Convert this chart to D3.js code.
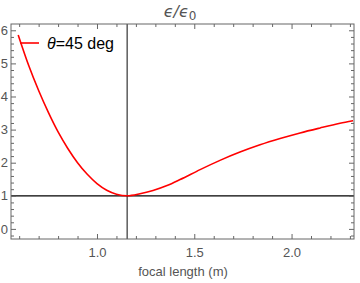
<!DOCTYPE html>
<html><head><meta charset="utf-8">
<script src="https://cdn.jsdelivr.net/npm/d3@7"></script>
<style>body{margin:0;background:#fff}svg{display:block}</style>
</head><body>
<svg id="c" width="360" height="283"></svg>
<script>
const focal = [0.595,0.65,0.70,0.75,0.80,0.85,0.90,0.95,1.00,1.05,1.10,1.155,1.221,1.288,1.360,1.427,1.530,1.632,1.735,1.838,1.941,2.044,2.147,2.249,2.316];
const eps   = [5.86,4.92,4.18,3.52,2.93,2.43,2.00,1.65,1.37,1.17,1.05,1.00,1.06,1.16,1.31,1.49,1.79,2.07,2.32,2.54,2.73,2.90,3.05,3.19,3.27];
const xTicks = [1.0,1.5,2.0];
const yTicks = [0,1,2,3,4,5,6];
const fMin = 1.155;
const legendLabel = "=45 deg";

const svg = d3.select("#c");
const L=11,T=24,R=354,B=239;
const x = d3.scaleLinear().domain([0.558,2.321]).range([L,R]);
const y = d3.scaleLinear().domain([-0.305,6.19]).range([B,T]);
const frameCol="#666", labCol="#555";

const line = d3.line().x((d,i)=>x(focal[i])).y(d=>y(d)).curve(d3.curveMonotoneX);
const g = svg.append("g");
g.append("clipPath").attr("id","cp").append("rect").attr("x",L).attr("y",T).attr("width",R-L).attr("height",B-T);

g.append("line").attr("x1",x(fMin)).attr("x2",x(fMin)).attr("y1",T).attr("y2",B).attr("stroke","#333").attr("stroke-width",1.2);
g.append("line").attr("x1",L).attr("x2",R).attr("y1",y(1)).attr("y2",y(1)).attr("stroke","#000").attr("stroke-width",1.2);

g.append("path").datum(eps).attr("d",line).attr("fill","none").attr("stroke","#ff0000").attr("stroke-width",1.6).attr("clip-path","url(#cp)");

const xMinor = d3.range(0.6,2.301,0.1).map(v=>+v.toFixed(2));
const yMinor = d3.range(-0.2,6.11,0.2).map(v=>+v.toFixed(2));
function addAxis(gen, tr){ const a=svg.append("g").attr("transform",tr).call(gen); a.select(".domain").remove(); a.selectAll("line").attr("stroke",frameCol); return a; }
const notMajor = (arr,maj)=>arr.filter(v=>!maj.some(t=>Math.abs(t-v)<1e-6));

const fmt = d3.format(".1f");
let ax = addAxis(d3.axisBottom(x).tickValues(xTicks).tickSize(-5).tickPadding(9).tickFormat(fmt), `translate(0,${B})`);
ax.selectAll("text").attr("fill",labCol).style("font-family","Liberation Sans, Arial, sans-serif").style("font-size","13px");
addAxis(d3.axisBottom(x).tickValues(notMajor(xMinor,xTicks)).tickSize(-3).tickFormat(""), `translate(0,${B})`);
addAxis(d3.axisTop(x).tickValues(xTicks).tickSize(-5).tickFormat(""), `translate(0,${T})`);
addAxis(d3.axisTop(x).tickValues(notMajor(xMinor,xTicks)).tickSize(-3).tickFormat(""), `translate(0,${T})`);

let ay = addAxis(d3.axisLeft(y).tickValues(yTicks).tickSize(-5).tickPadding(3).tickFormat(d3.format("d")), `translate(${L},0)`);
ay.selectAll("text").attr("fill",labCol).style("font-family","Liberation Sans, Arial, sans-serif").style("font-size","13px");
addAxis(d3.axisLeft(y).tickValues(notMajor(yMinor,yTicks)).tickSize(-3).tickFormat(""), `translate(${L},0)`);
addAxis(d3.axisRight(y).tickValues(yTicks).tickSize(-5).tickFormat(""), `translate(${R},0)`);
addAxis(d3.axisRight(y).tickValues(notMajor(yMinor,yTicks)).tickSize(-3).tickFormat(""), `translate(${R},0)`);

svg.append("rect").attr("x",L).attr("y",T).attr("width",R-L).attr("height",B-T).attr("fill","none").attr("stroke",frameCol).attr("stroke-width",1);

svg.append("text").attr("x",183).attr("y",276).attr("text-anchor","middle").attr("fill",labCol)
  .style("font-family","Liberation Sans, Arial, sans-serif").style("font-size","13px").text("focal length (m)");

const tt = svg.append("text").attr("x",180).attr("y",17).attr("text-anchor","middle").attr("fill","#555")
  .style("font-family","DejaVu Sans, sans-serif").style("font-size","16px").style("font-style","italic");
tt.append("tspan").text("\u03F5/\u03F5");
tt.append("tspan").attr("dy",3).style("font-size","12px").style("font-style","normal").text("0");

svg.append("line").attr("x1",20).attr("x2",39).attr("y1",43).attr("y2",43).attr("stroke","#ff0000").attr("stroke-width",1.6);
const lt = svg.append("text").attr("x",47).attr("y",48.5).attr("fill","#000")
  .style("font-family","Liberation Sans, Arial, sans-serif").style("font-size","16px");
lt.append("tspan").style("font-style","italic").text("\u03B8");
lt.append("tspan").text(legendLabel);
</script>
</body></html>
